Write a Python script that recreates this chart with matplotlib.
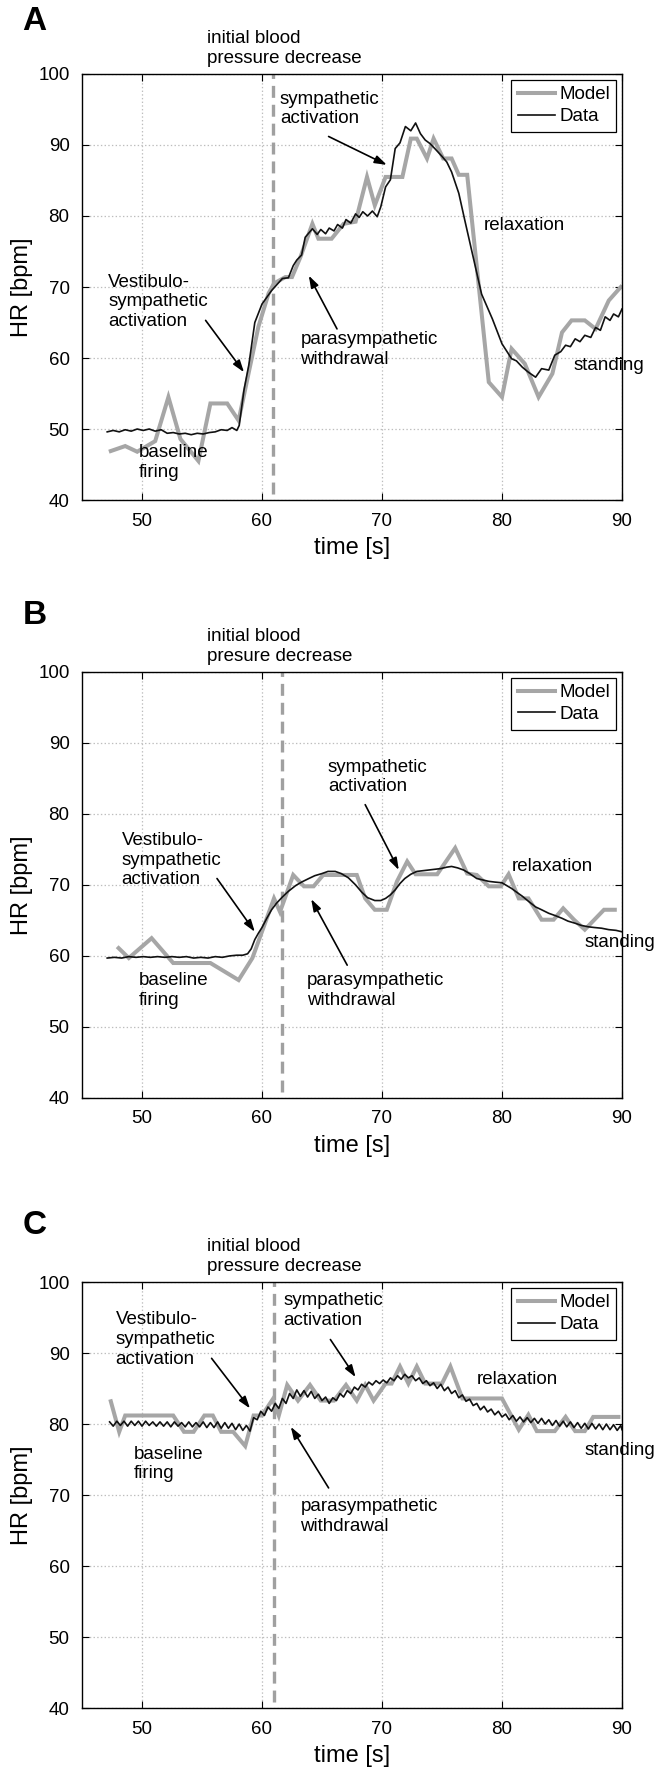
import matplotlib
matplotlib.use('Agg')
import matplotlib.pyplot as plt

plt.rcParams['font.family'] = ['Liberation Sans', 'DejaVu Sans']
plt.rcParams['lines.scale_dashes'] = False

# ---- Panel A ----
a_model_t = [47.4, 48.6, 49.6, 51.1, 52.2, 53.2, 54.7, 55.7, 57.1, 58.05, 58.75, 59.7, 60.55, 61.0,
             61.95, 62.5, 63.2, 64.2, 64.7, 65.8, 66.8, 67.8, 68.75, 69.4, 70.3, 71.7, 72.4, 72.9,
             73.75, 74.3, 75.1, 75.8, 76.4, 77.1, 78.9, 80.0, 80.8, 81.9, 83.05, 84.2, 85.0, 85.8,
             86.9, 87.8, 88.9, 89.9]
a_model_hr = [46.9, 47.6, 46.8, 48.3, 54.5, 48.6, 45.5, 53.6, 53.6, 51.2, 56.8, 64.4, 69.1, 70.5,
              71.4, 71.4, 74.2, 78.9, 76.8, 76.8, 78.9, 79.2, 85.5, 81.5, 85.5, 85.5, 90.9, 90.9,
              88.1, 90.9, 88.1, 88.1, 85.8, 85.8, 56.6, 54.5, 61.3, 59.2, 54.5, 57.8, 63.6, 65.3,
              65.3, 64.1, 68.1, 70.0]
a_data_t = [47.1, 47.6, 48.1, 48.6, 49.1, 49.6, 50.1, 50.6, 51.1, 51.6, 52.1, 52.6, 53.1, 53.6,
            54.1, 54.6, 55.1, 55.6, 56.1, 56.6, 57.1, 57.5, 57.9, 58.1, 58.5, 58.9, 59.4, 60.0,
            60.8, 61.7, 62.2, 62.6, 62.9, 63.3, 63.6, 64.2, 64.6, 64.9, 65.3, 65.6, 66.0, 66.3,
            66.7, 67.0, 67.4, 67.8, 68.1, 68.4, 68.8, 69.2, 69.6, 69.9, 70.3, 70.7, 71.1, 71.5,
            71.95, 72.4, 72.8, 73.2, 73.6, 74.0, 74.4, 75.0, 75.4, 75.8, 76.4, 76.9, 77.6, 78.3,
            79.2, 80.0, 80.8, 81.2, 81.7, 82.2, 82.8, 83.3, 83.9, 84.4, 84.9, 85.3, 85.7, 86.1,
            86.5, 86.9, 87.4, 87.8, 88.2, 88.6, 89.0, 89.3, 89.7, 90.0]
a_data_hr = [49.6, 49.8, 49.6, 49.9, 49.7, 50.0, 49.8, 50.0, 49.7, 49.9, 49.4, 49.5, 49.3, 49.4,
             49.2, 49.4, 49.3, 49.5, 49.6, 49.9, 49.8, 50.2, 49.8, 50.5, 55.5, 59.0, 65.0, 67.6,
             69.5, 71.2, 71.3, 73.0, 73.8, 74.5, 77.0, 78.2, 77.4, 78.1, 77.5, 78.3, 77.9, 78.8,
             78.3, 79.5, 79.0, 80.3, 79.8, 80.6, 80.0, 80.7, 79.9, 81.3, 84.1, 85.1, 89.5, 90.3,
             92.6, 92.0, 93.1, 91.6, 90.7, 90.2, 89.5, 88.4, 87.6, 86.2, 83.2, 79.4, 74.2, 69.0,
             65.5, 62.0, 59.9, 59.6, 58.7, 58.0, 57.3, 58.5, 58.3, 60.4, 60.9, 61.8, 61.6, 62.7,
             62.3, 63.2, 62.9, 64.3, 63.9, 65.8, 65.3, 66.2, 65.8, 66.9]

# ---- Panel B ----
b_model_t = [48.05, 48.9, 50.8, 52.6, 55.7, 58.05, 59.2, 61.0, 61.5, 62.6, 63.5, 64.3, 65.1, 67.9,
             68.6, 69.4, 70.4, 71.25, 72.1, 72.8, 74.6, 76.1, 77.1, 77.9, 78.9, 79.9, 80.55, 81.4,
             82.2, 83.3, 84.3, 85.1, 86.0, 86.9, 88.5, 89.4]
b_model_hr = [61.1, 59.7, 62.5, 59.0, 59.0, 56.6, 59.7, 68.1, 66.2, 71.4, 69.8, 69.8, 71.4, 71.4,
              68.1, 66.5, 66.5, 70.5, 73.3, 71.5, 71.5, 75.2, 71.6, 71.4, 69.8, 69.8, 71.5, 68.1,
              68.1, 65.1, 65.1, 66.7, 65.1, 63.7, 66.5, 66.5]
b_data_t = [47.1, 47.7, 48.3, 48.9, 49.5, 50.1, 50.7, 51.3, 51.9, 52.5, 53.1, 53.7, 54.3, 54.9,
            55.5, 56.1, 56.7, 57.3, 57.9, 58.4, 58.8, 59.1, 59.4, 59.7, 60.0, 60.4, 60.8, 61.2,
            61.7, 62.2, 62.8, 63.3, 63.9, 64.4, 65.0, 65.5, 66.1, 66.6, 67.2, 67.8, 68.3, 68.8,
            69.4, 69.9, 70.3, 70.7, 71.1, 71.5, 71.9, 72.4, 72.9, 73.4, 73.9, 74.4, 74.9, 75.4,
            75.8, 76.3, 76.8, 77.3, 77.9, 78.4, 78.9, 79.4, 80.0, 80.4, 80.8, 81.2, 81.7, 82.2,
            82.8, 83.3, 83.9, 84.4, 85.0, 85.5, 86.1, 86.6, 87.2, 87.7, 88.3, 88.9, 89.5, 90.0]
b_data_hr = [59.7, 59.8, 59.7, 59.9, 59.8, 59.9, 59.8, 59.9, 59.8, 59.9, 59.8, 59.9, 59.7, 59.8,
             59.7, 59.9, 59.8, 60.0, 60.1, 60.1, 60.3, 61.0, 62.3, 63.2, 64.0, 65.3, 66.5, 67.4,
             68.3, 69.1, 69.9, 70.4, 70.9, 71.3, 71.6, 71.9, 71.9, 71.6, 71.0, 70.0, 69.0, 68.2,
             67.8, 67.8, 68.1, 68.6, 69.3, 70.2, 70.9, 71.5, 71.9, 72.0, 72.1, 72.2, 72.3, 72.5,
             72.6, 72.4, 72.1, 71.6, 70.9, 70.7, 70.5, 70.4, 70.3, 69.9, 69.5, 69.0, 68.4, 67.7,
             66.9, 66.5, 66.0, 65.7, 65.3, 64.9, 64.6, 64.3, 64.1, 64.0, 63.9, 63.7, 63.6, 63.4]

# ---- Panel C ----
c_model_t = [47.4, 48.1, 48.6, 52.6, 53.5, 54.3, 55.2, 55.9, 56.6, 57.6, 58.6, 59.3, 60.0, 60.9,
             61.4, 62.1, 63.0, 64.0, 64.9, 66.0, 67.0, 67.9, 68.6, 69.3, 70.3, 70.8, 71.5, 72.2,
             72.9, 73.6, 75.0, 75.7, 76.7, 80.0, 81.4, 82.2, 82.9, 84.4, 85.3, 86.1, 86.9, 87.6,
             89.7]
c_model_hr = [83.2, 78.9, 81.2, 81.2, 78.9, 78.9, 81.2, 81.2, 78.9, 78.9, 76.9, 81.2, 81.2, 83.5,
              81.2, 85.5, 83.3, 85.5, 83.3, 83.3, 85.5, 83.3, 85.5, 83.3, 85.7, 85.7, 88.1, 85.7,
              88.1, 85.7, 85.7, 88.1, 83.6, 83.6, 79.2, 81.3, 79.0, 79.0, 81.0, 79.0, 79.0, 81.0,
              81.0]
c_data_t = [47.3, 47.6, 47.9, 48.2, 48.5, 48.8, 49.1, 49.4, 49.7, 50.0, 50.3, 50.6, 50.9, 51.2,
            51.5, 51.8, 52.1, 52.4, 52.7, 53.0, 53.3, 53.6, 53.9, 54.2, 54.5, 54.8, 55.1, 55.4,
            55.7, 56.0, 56.3, 56.6, 56.9, 57.2, 57.5, 57.8, 58.1, 58.4, 58.7, 59.0, 59.3, 59.6,
            59.9, 60.2, 60.5, 60.8, 61.1, 61.4, 61.7, 62.0, 62.3, 62.6, 62.9, 63.2, 63.5, 63.8,
            64.1, 64.4, 64.7, 65.0, 65.3, 65.6, 65.9, 66.2, 66.5, 66.8, 67.1, 67.4, 67.7, 68.0,
            68.3, 68.6, 68.9, 69.2, 69.5, 69.8, 70.1, 70.4, 70.7, 71.0, 71.3, 71.6, 71.9, 72.2,
            72.5, 72.8, 73.1, 73.4, 73.7, 74.0, 74.3, 74.6, 74.9, 75.2, 75.5, 75.8, 76.1, 76.4,
            76.7, 77.0, 77.3, 77.6, 77.9, 78.2, 78.5, 78.8, 79.1, 79.4, 79.7, 80.0, 80.3, 80.6,
            80.9, 81.2, 81.5, 81.8, 82.1, 82.4, 82.7, 83.0, 83.3, 83.6, 83.9, 84.2, 84.5, 84.8,
            85.1, 85.4, 85.7, 86.0, 86.3, 86.6, 86.9, 87.2, 87.5, 87.8, 88.1, 88.4, 88.7, 89.0,
            89.3, 89.6, 89.9, 90.0]
c_data_hr = [80.3, 79.7, 80.4, 79.8, 80.4, 79.7, 80.4, 79.8, 80.4, 79.7, 80.4, 79.8, 80.3, 79.7,
             80.3, 79.7, 80.3, 79.6, 80.3, 79.7, 80.2, 79.6, 80.3, 79.6, 80.2, 79.6, 80.3, 79.5,
             80.2, 79.5, 80.3, 79.4, 80.2, 79.4, 80.1, 79.2, 80.0, 79.1, 79.8, 79.0, 80.9, 80.6,
             81.8, 81.2, 82.4, 81.8, 82.9, 82.2, 83.6, 82.9, 84.3, 83.6, 84.8, 83.9, 84.7, 83.8,
             84.6, 83.6, 84.2, 83.3, 83.8, 82.9, 83.7, 83.3, 84.3, 83.8, 84.7, 84.3, 85.2, 84.8,
             85.6, 85.2, 85.9, 85.5, 86.1, 85.7, 86.2, 85.8, 86.5, 86.1, 86.8, 86.3, 87.0, 86.5,
             86.8, 86.1, 86.5, 85.7, 86.1, 85.4, 85.8, 85.0, 85.6, 84.7, 85.2, 84.3, 84.7, 83.7,
             84.1, 83.2, 83.5, 82.6, 82.9, 82.0, 82.5, 81.7, 82.1, 81.3, 81.8, 81.0, 81.4, 80.6,
             81.2, 80.4, 81.0, 80.3, 80.9, 80.2, 80.8, 80.1, 80.8, 80.0, 80.6, 79.8, 80.5, 79.7,
             80.4, 79.6, 80.3, 79.5, 80.2, 79.4, 80.1, 79.3, 80.1, 79.3, 80.0, 79.2, 80.0, 79.2,
             79.9, 79.1, 79.8, 79.2]

# time of the initial blood pressure decrease (dashed line)
bp_drop_t = [60.9, 61.7, 61.0]

panel_letters = ['A', 'B', 'C']
bp_labels = ['initial blood\npressure decrease', 'initial blood\npresure decrease',
             'initial blood\npressure decrease']
x_ticks = [50, 60, 70, 80, 90]
y_ticks = [40, 50, 60, 70, 80, 90, 100]

# text positions (t, hr) and arrows (tail, head) for each panel
notes = [
    {'vest': (47.2, 67.9), 'base': (49.7, 45.25), 'para': (63.2, 61.2), 'symp': (61.5, 95.05),
     'relax': (78.5, 78.6), 'stand': (86.0, 58.9),
     'arrows': [((55.3, 65.3), (58.5, 58.0)), ((66.25, 64.1), (63.9, 71.6)), ((65.55, 91.2), (70.4, 87.2))]},
    {'vest': (48.3, 73.5), 'base': (49.7, 55.1), 'para': (63.75, 55.1), 'symp': (65.5, 85.2),
     'relax': (80.8, 72.6), 'stand': (86.9, 61.9),
     'arrows': [((56.25, 70.9), (59.4, 63.4)), ((67.1, 58.7), (64.1, 68.0)), ((68.6, 81.3), (71.4, 72.1))]},
    {'vest': (47.8, 91.9), 'base': (49.3, 74.35), 'para': (63.2, 67.0), 'symp': (61.8, 95.95),
     'relax': (77.9, 86.3), 'stand': (86.9, 76.3),
     'arrows': [((55.8, 89.25), (59.0, 82.2)), ((65.55, 71.0), (62.4, 79.6)), ((65.7, 91.9), (67.8, 86.6))]},
]

models = [(a_model_t, a_model_hr), (b_model_t, b_model_hr), (c_model_t, c_model_hr)]
datas = [(a_data_t, a_data_hr), (b_data_t, b_data_hr), (c_data_t, c_data_hr)]

fs = 13.5
fig = plt.figure(figsize=(6.55, 17.7), dpi=100)
bottoms = [0.7175, 0.3797, 0.0350]
letter_y = [0.9876, 0.6520, 0.3079]

for i in range(3):
    ax = fig.add_axes([0.1252, bottoms[i], 0.8244, 0.2407])
    ax.grid(True, linestyle=':', color='#bdbdbd', linewidth=0.9)
    ax.axvline(bp_drop_t[i], ymin=0.015, ymax=1, color='#a0a0a0', lw=2.4, dashes=(8.6, 5.0))
    ax.plot(models[i][0], models[i][1], color='#a6a6a6', lw=2.9, label='Model', solid_joinstyle='miter')
    ax.plot(datas[i][0], datas[i][1], color='#111111', lw=1.2, label='Data')
    ax.set_xlim(45, 90)
    ax.set_ylim(40, 100)
    ax.set_xticks(x_ticks)
    ax.set_yticks(y_ticks)
    ax.tick_params(direction='in', top=True, right=True, length=5, width=0.8, labelsize=fs, pad=9)
    for s in ax.spines.values():
        s.set_linewidth(1.0)
    ax.set_xlabel('time [s]', fontsize=17)
    ax.set_ylabel('HR [bpm]', fontsize=17)
    ax.xaxis.set_label_coords(0.5, -0.113)
    ax.xaxis.label.set_va('center')
    ax.yaxis.set_label_coords(-0.112, 0.5)
    ax.yaxis.label.set_va('center')

    leg = ax.legend(loc='upper right', fontsize=fs, handlelength=2.0, handletextpad=0.2,
                    borderaxespad=0.3, fancybox=False, framealpha=1, borderpad=0.35,
                    labelspacing=0.25)
    leg.get_frame().set_edgecolor('black')
    leg.get_frame().set_linewidth(0.9)

    ax.text(55.4, 1.06, bp_labels[i], transform=ax.get_xaxis_transform(), fontsize=fs,
            ha='left', va='center', clip_on=False)

    n = notes[i]
    ax.text(*n['vest'], 'Vestibulo-\nsympathetic\nactivation', fontsize=fs, ha='left', va='center')
    ax.text(*n['base'], 'baseline\nfiring', fontsize=fs, ha='left', va='center')
    ax.text(*n['para'], 'parasympathetic\nwithdrawal', fontsize=fs, ha='left', va='center')
    ax.text(*n['symp'], 'sympathetic\nactivation', fontsize=fs, ha='left', va='center')
    ax.text(*n['relax'], 'relaxation', fontsize=fs, ha='left', va='center')
    ax.text(*n['stand'], 'standing', fontsize=fs, ha='left', va='center', clip_on=False)
    for tail, head in n['arrows']:
        ax.annotate('', xy=head, xytext=tail,
                    arrowprops=dict(arrowstyle='-|>,head_length=0.45,head_width=0.15',
                                    color='k', lw=1.2, mutation_scale=16, shrinkA=0, shrinkB=0))

    fig.text(0.053, letter_y[i], panel_letters[i], fontsize=24, fontweight='bold',
             ha='center', va='center')

fig.savefig('out.png', dpi=100)
